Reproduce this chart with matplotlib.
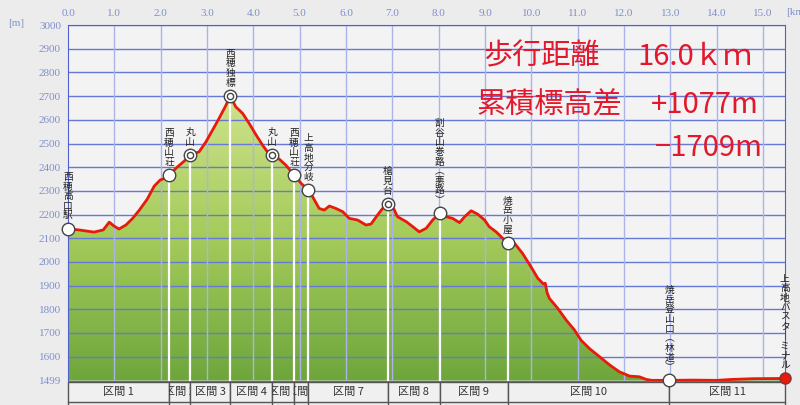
import matplotlib
matplotlib.use("Agg")
import matplotlib.pyplot as plt
import numpy as np
from matplotlib.patches import Rectangle
from matplotlib.colors import LinearSegmentedColormap

plt.rcParams['font.family'] = ['Noto Sans CJK JP', 'DejaVu Sans']

# 距離[km] と 標高[m]
dist = [0.00, 0.24, 0.56, 0.76, 0.89, 0.99, 1.10, 1.25, 1.40, 1.54, 1.71, 1.86, 1.99, 2.10, 2.18,
        2.36, 2.51, 2.64, 2.83, 2.98, 3.12, 3.26, 3.41, 3.50, 3.62, 3.77, 3.91, 4.06, 4.20, 4.33,
        4.41, 4.56, 4.70, 4.88, 5.03, 5.19, 5.28, 5.42, 5.53, 5.64, 5.78, 5.93, 6.07, 6.25, 6.43,
        6.54, 6.68, 6.79, 6.90, 7.01, 7.11, 7.30, 7.44, 7.58, 7.73, 7.87, 8.02, 8.16, 8.30, 8.45,
        8.56, 8.70, 8.84, 8.99, 9.09, 9.24, 9.38, 9.49, 9.64, 9.81, 9.99, 10.14, 10.26, 10.30,
        10.34, 10.39, 10.57, 10.75, 10.93, 11.07, 11.25, 11.47, 11.69, 11.90, 12.12, 12.33, 12.48,
        12.60, 12.98, 13.50, 14.00, 14.34, 14.80, 15.47]
elev = [2140, 2135, 2126, 2135, 2168, 2152, 2139, 2156, 2185, 2219, 2265, 2320, 2346, 2354, 2367,
        2401, 2426, 2452, 2465, 2508, 2557, 2606, 2662, 2701, 2655, 2627, 2585, 2536, 2493, 2458,
        2452, 2434, 2409, 2367, 2332, 2303, 2275, 2226, 2219, 2236, 2226, 2212, 2184, 2177, 2156,
        2160, 2198, 2226, 2245, 2233, 2191, 2170, 2149, 2127, 2142, 2177, 2205, 2191, 2184, 2166,
        2191, 2216, 2202, 2177, 2149, 2127, 2100, 2080, 2078, 2036, 1980, 1931, 1907, 1910,
        1870, 1846, 1804, 1755, 1713, 1670, 1635, 1600, 1565, 1536, 1518, 1515, 1504,
        1500, 1500, 1501, 1500, 1504, 1507, 1508]

# 地点
wp_names = ["西穂高口駅", "西穂山荘", "丸山", "西穂独標", "丸山", "西穂山荘", "上高地分岐",
            "槍見台", "割谷山巻路(悪路)", "焼岳小屋", "焼岳登山口(林道)", "上高地バスターミナル"]
wp_km = [0.00, 2.18, 2.64, 3.50, 4.41, 4.88, 5.19, 6.90, 8.02, 9.49, 12.98, 15.47]
wp_elev = [2140, 2367, 2452, 2701, 2452, 2367, 2303, 2245, 2205, 2080, 1500, 1508]
wp_peak = [False, False, True, True, True, False, False, True, False, False, False, False]

sections = ["区間 1", "区間 2", "区間 3", "区間 4", "区間 5", "区間 6", "区間 7",
            "区間 8", "区間 9", "区間 10", "区間 11"]

xticks = [0, 1, 2, 3, 4, 5, 6, 7, 8, 9, 10, 11, 12, 13, 14, 15]
yticks = [1499, 1600, 1700, 1800, 1900, 2000, 2100, 2200, 2300, 2400, 2500, 2600, 2700, 2800, 2900, 3000]

fig = plt.figure(figsize=(8, 4.05), dpi=100, facecolor='#ececec')
ax = fig.add_axes([0.085, 0.0603, 0.896, 0.8777])
ax.set_facecolor('#f3f3f3')
ax.set_xlim(0, 15.47)
ax.set_ylim(1499, 3000)

# グラデーション塗り
cmap = LinearSegmentedColormap.from_list('g', ['#6ea63c', '#a6cc5c', '#d2e490'])
grad = np.linspace(0, 1, 256).reshape(-1, 1)
img = ax.imshow(grad, cmap=cmap, origin='lower', aspect='auto',
                extent=[0, 15.47, 1499, 2750], zorder=1)
poly = ax.fill_between(dist, elev, 1499, color='none', zorder=1)
img.set_clip_path(poly.get_paths()[0], transform=ax.transData)

# グリッド
for y in yticks[1:]:
    ax.axhline(y, color='#6678d8', lw=1.0, zorder=2)
for x in xticks[1:]:
    ax.axvline(x, color='#aab3ea', lw=1.0, zorder=2)

# 区切り線
for x, e in zip(wp_km[1:-1], wp_elev[1:-1]):
    ax.plot([x, x], [1499, e], color='white', lw=1.6, zorder=3)

ax.plot(dist, elev, color='#e81a0c', lw=2.0, zorder=4, solid_joinstyle='round')

# マーカー
for x, e, pk in zip(wp_km[:-1], wp_elev[:-1], wp_peak[:-1]):
    ax.plot(x, e, 'o', ms=9, mfc='white', mec='#444444', mew=1.0, zorder=6, clip_on=False)
    if pk:
        ax.plot(x, e, 'o', ms=4.5, mfc='white', mec='#444444', mew=1.0, zorder=7, clip_on=False)
ax.plot(wp_km[-1], wp_elev[-1], 'o', ms=8, mfc='#e81a0c', mec='#883333', mew=1.0, zorder=7, clip_on=False)

# 地点名(縦書き)
vmap = str.maketrans({'(': '︵', ')': '︶', 'ー': '｜'})
for name, x, e in zip(wp_names, wp_km, wp_elev):
    t = "\n".join(name.translate(vmap))
    ax.annotate(t, (x, e), xytext=(0, 6), textcoords='offset points', ha='center', va='bottom',
                fontsize=7, linespacing=0.95, color='#222222', zorder=8, annotation_clip=False)

# 区間
bx = ax.get_xaxis_transform()
for i, s in enumerate(sections):
    x0, x1 = wp_km[i], wp_km[i + 1]
    r = Rectangle((x0, -0.060), x1 - x0, 0.056, transform=bx, facecolor='#f0f0f0',
                  edgecolor='#555555', lw=1.0, clip_on=False, zorder=5)
    ax.add_patch(r)
    ax.plot([x0, x0], [-0.07, -0.06], transform=bx, color='#555555', lw=1.0, clip_on=False)
    t = ax.text((x0 + x1) / 2, -0.032, s, transform=bx, ha='center', va='center',
                fontsize=8, color='#333333', zorder=6)
    t.set_clip_on(True)
    t.set_clip_path(r)
ax.plot([wp_km[-1], wp_km[-1]], [-0.07, -0.06], transform=bx, color='#555555', lw=1.0, clip_on=False)

# 目盛り
ax.set_xticks(xticks)
ax.set_xticklabels(["%.1f" % v for v in xticks])
ax.set_yticks(yticks)
ax.set_yticklabels([str(v) for v in yticks])
ax.xaxis.tick_top()
ax.tick_params(length=0, labelsize=8, labelcolor='#8090cc', pad=5)
for lab in ax.get_xticklabels() + ax.get_yticklabels():
    lab.set_family('Liberation Serif')
ax.grid(False)
for side in ['left', 'top', 'right']:
    ax.spines[side].set_color('#5060d0')
ax.spines['bottom'].set_color('#7060c0')
fig.text(0.01, 0.935, "[m]", fontsize=8, color='#8090cc', family='Liberation Serif')
fig.text(0.983, 0.962, "[km]", fontsize=8, color='#8090cc', family='Liberation Serif')

# 距離・標高差
red = '#e2182c'
fig.text(0.604, 0.86, "歩行距離", fontsize=21, color=red, va='center')
fig.text(0.94, 0.86, "16.0ｋｍ", fontsize=21, color=red, va='center', ha='right')
fig.text(0.596, 0.741, "累積標高差", fontsize=21, color=red, va='center')
fig.text(0.948, 0.741, "+1077m", fontsize=21, color=red, va='center', ha='right')
fig.text(0.953, 0.635, "−1709m", fontsize=21, color=red, va='center', ha='right')

fig.savefig("out.png", dpi=100, facecolor=fig.get_facecolor())
